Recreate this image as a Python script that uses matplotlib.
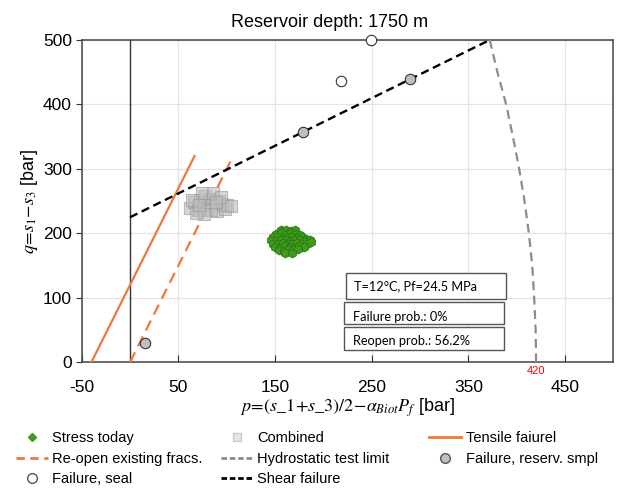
import numpy as np
import matplotlib
matplotlib.use('Agg')
from matplotlib import pyplot as plt
from matplotlib.lines import Line2D
from matplotlib.patches import Rectangle

plt.rcParams['font.family'] = ['Liberation Sans', 'DejaVu Sans']
plt.rcParams['mathtext.fontset'] = 'stix'
plt.rcParams['axes.unicode_minus'] = False

# stress today (green cluster)
stress_p = [156, 161, 166, 171,
            151, 156, 161, 166, 171, 176,
            148, 153, 158, 163, 168, 173, 178, 182,
            146, 151, 156, 161, 166, 171, 176, 181, 186,
            148, 153, 158, 163, 168, 173, 178, 183, 187,
            150, 155, 160, 165, 170, 175, 180,
            154, 159, 164, 169, 174,
            160, 168]
stress_q = [205, 206, 204, 205,
            199, 200, 198, 200, 199, 198,
            194, 195, 193, 195, 194, 193, 195, 192,
            189, 188, 190, 189, 188, 190, 189, 188, 189,
            184, 183, 185, 184, 183, 185, 184, 183, 186,
            179, 178, 180, 179, 178, 180, 179,
            174, 173, 175, 174, 175,
            170, 170]

# combined (grey squares)
comb_p = [62, 66, 70, 72, 75, 78, 80, 82, 85, 88, 90, 92, 95, 98, 100,
          68, 74, 84, 86, 94, 77, 64, 104, 89, 71]
comb_q = [240, 248, 236, 252, 244, 258, 238, 248, 254, 242, 234, 250, 246, 238, 244,
          232, 262, 236, 262, 256, 230, 252, 242, 248, 244]

# lab failure points
reserv_p = [15, 179, 290]
reserv_q = [30, 357, 439]
seal_p = [218, 249]
seal_q = [436, 500]

# failure envelopes
shear_p = [0, 372]
shear_q = [225, 500]
tensile_p = [-40, 66.7]
tensile_q = [0, 320]
reopen_p = [0, 106.7]
reopen_q = [0, 320]
hydro_q = [0, 50, 100, 150, 200, 250, 300, 350, 400, 450, 500]
hydro_p = [420, 419.5, 418, 416, 412.5, 408, 402.5, 396, 389, 380, 372]

info = ['T=12°C, Pf=24.5 MPa', 'Failure prob.: 0%', 'Reopen prob.: 56.2%']

fig = plt.figure(figsize=(6.22, 4.9), dpi=100)
ax = fig.add_axes([0.1313, 0.2606, 0.8550, 0.6578])

orange = '#f0783a'
ax.plot(tensile_p, tensile_q, color=orange, lw=1.6, zorder=3)
ax.plot(reopen_p, reopen_q, color=orange, lw=1.6, ls=(0, (5, 3)), zorder=3)
ax.plot(hydro_p, hydro_q, color='#8c8c8c', lw=1.6, ls=(0, (4, 2.5)), zorder=3)
ax.plot(shear_p, shear_q, color='black', lw=1.7, ls=(0, (3.5, 2)), zorder=4)
ax.axvline(0, color='#333333', lw=1.0, zorder=2)

ax.scatter(comb_p, comb_q, marker='s', s=75, facecolor='#bdbdbd', edgecolor='#999999',
           alpha=0.6, lw=0.8, zorder=5)
ax.scatter(stress_p, stress_q, marker='h', s=42, facecolor='#3f9a1e', edgecolor='#2c7a12',
           lw=0.6, zorder=5)
ax.plot(reserv_p, reserv_q, 'o', ms=7.5, mfc='#bfbfbf', mec='#333333', mew=0.8,
        ls='none', zorder=6, clip_on=False)
ax.plot(seal_p, seal_q, 'o', ms=7.5, mfc='white', mec='#333333', mew=0.8,
        ls='none', zorder=6, clip_on=False)

ax.set_xlim(-50, 500)
ax.set_ylim(0, 500)
ax.set_xticks([-50, 50, 150, 250, 350, 450])
ax.set_yticks([0, 100, 200, 300, 400, 500])
ax.grid(True, color='#e3e3e3', lw=0.9)
ax.set_axisbelow(True)
ax.tick_params(axis='x', direction='in', length=5, labelsize=12.5, pad=13, color='#333333')
ax.tick_params(axis='y', direction='out', length=4, labelsize=12.5, pad=3, color='#333333')
for s in ax.spines.values():
    s.set_color('#444444')
    s.set_linewidth(1.1)

ax.text(420, -6, '420', color='red', fontsize=8, ha='center', va='top')

ax.set_xlabel(r'$p\!=\!(s\_1\!+\!s\_3)/2\!-\!\alpha_{Biot}P_f$ [bar]', fontsize=13, labelpad=1)
ax.set_ylabel(r'$q\!=\!s_1\!-\!s_3$ [bar]', fontsize=13, labelpad=2)
fig.text(0.53, 0.955, 'Reservoir depth: 1750 m', fontsize=13, ha='center', va='center')

# info boxes (axes fraction)
boxes = [(0.4965, 0.1955, 0.3015, 0.0805, 0.2367),
         (0.494, 0.1188, 0.300, 0.0672, 0.1415),
         (0.494, 0.0382, 0.300, 0.0723, 0.066)]
for (bx, by, bw, bh, ty), t in zip(boxes, info):
    ax.add_patch(Rectangle((bx, by), bw, bh, transform=ax.transAxes, facecolor='white',
                           edgecolor='#555555', lw=1.0, zorder=7))
    ax.text(bx + 0.016, ty, t, transform=ax.transAxes, fontsize=9.2, family='Lato',
            va='center', ha='left', zorder=8)

h_stress = Line2D([], [], marker='D', ms=4, color='#3f9a1e', ls='none')
h_comb = Line2D([], [], marker='s', ms=6, mfc='#e6e6e6', mec='#cccccc', ls='none')
h_tens = Line2D([], [], color=orange, lw=2)
h_reopen = Line2D([], [], color=orange, lw=2, ls=(0, (3, 2)))
h_hydro = Line2D([], [], color='#8c8c8c', lw=2, ls=(0, (2, 1)))
h_reserv = Line2D([], [], marker='o', ms=7, mfc='#bfbfbf', mec='#555555', ls='none')
h_seal = Line2D([], [], marker='o', ms=7, mfc='white', mec='#555555', ls='none')
h_shear = Line2D([], [], color='black', lw=2, ls=(0, (2, 1)))

cols = [([h_stress, h_reopen, h_seal], ['Stress today', 'Re-open existing fracs.', 'Failure, seal'], 0.025),
        ([h_comb, h_hydro, h_shear], ['Combined', 'Hydrostatic test limit', 'Shear failure'], 0.355),
        ([h_tens, h_reserv], ['Tensile faiurel', 'Failure, reserv. smpl'], 0.69)]
for hs, ls_, x0 in cols:
    fig.legend(hs, ls_, loc='upper left', bbox_to_anchor=(x0, 0.12), frameon=False,
               fontsize=10.5, handlelength=2.2, handletextpad=0.3, labelspacing=0.45,
               borderpad=0, borderaxespad=0)

fig.savefig('out.png', dpi=100)
